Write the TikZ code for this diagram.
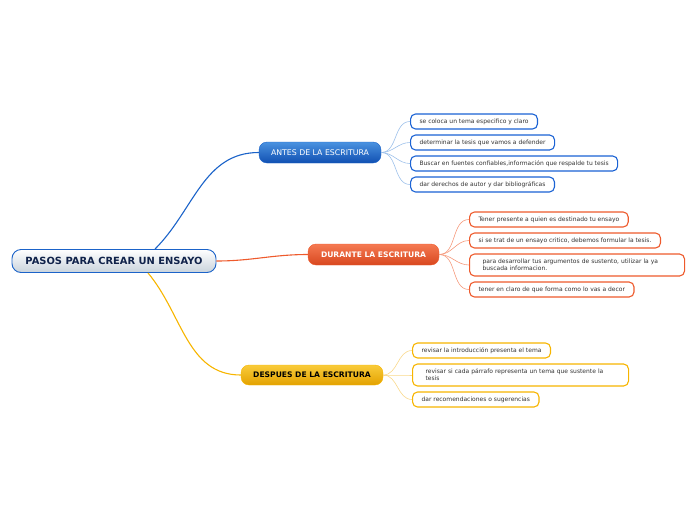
\documentclass[tikz,border=0pt]{standalone}
\usepackage{fontspec}
\setmainfont{DejaVu Sans}
\definecolor{bluebr}{HTML}{1B63C9}
\definecolor{bluetop}{HTML}{4A92E0}
\definecolor{bluebot}{HTML}{1150B2}
\definecolor{bluelf}{HTML}{1A62D4}
\definecolor{bluethin}{HTML}{9CC0EA}
\definecolor{orgbr}{HTML}{EE5A2C}
\definecolor{orgtop}{HTML}{F57A52}
\definecolor{orgbot}{HTML}{D8471F}
\definecolor{orgthin}{HTML}{F59A7C}
\definecolor{yelbr}{HTML}{F7B500}
\definecolor{yeltop}{HTML}{F9CB3A}
\definecolor{yelbot}{HTML}{E3A200}
\definecolor{yelthin}{HTML}{F9D88A}
\definecolor{navy}{HTML}{10224A}
\definecolor{rootbot}{HTML}{C9D3DC}
\definecolor{leaftext}{HTML}{333333}
\usetikzlibrary{positioning}

\tikzset{
  rootbox/.style={draw=bluebr, line width=0.9, rounded corners=9,
    top color=white, bottom color=rootbot,
    minimum width=204, minimum height=23, inner sep=0,
    font=\fontsize{9.9}{11}\selectfont\bfseries, text=navy},
  branchbox/.style={rounded corners=8, minimum height=21, inner sep=0,
    font=\fontsize{7.8}{9}\selectfont},
  leafbox/.style={rounded corners=5, line width=1.1, fill=white,
    anchor=west, minimum height=15, inner xsep=9, inner ysep=2,
    align=left, text=leaftext, font=\fontsize{6}{7.2}\selectfont},
  mainlink/.style={line width=1.1},
  leaflink/.style={line width=0.6},
}

\begin{document}
\begin{tikzpicture}[x=1pt, y=-1pt]
\useasboundingbox (0,0) rectangle (696,520);

% main topic and branches
\node[rootbox] (root) at (114,261) {PASOS PARA CREAR UN ENSAYO};
\node[branchbox, top color=bluetop, bottom color=bluebot, draw=bluebr,
  minimum width=122, text=white] (antes) at (320,152.5) {ANTES DE LA ESCRITURA};
\node[branchbox, top color=orgtop, bottom color=orgbot, draw=orgbr,
  minimum width=131, text=white, font=\fontsize{7.6}{9}\selectfont\bfseries]
  (durante) at (373.5,254.5) {DURANTE LA ESCRITURA};
\node[branchbox, top color=yeltop, bottom color=yelbot, draw=yelbr,
  minimum width=142, minimum height=20, text=black,
  font=\fontsize{7.6}{9}\selectfont\bfseries]
  (despues) at (312,375) {DESPUES DE LA ESCRITURA};

\coordinate (rootup) at ([xshift=41]root.north);
\coordinate (rootdown) at ([xshift=34]root.south);
\draw[mainlink, bluebr] (rootup) to[out=45, in=180] (antes.west);
\draw[mainlink, orgbr] (root.east) to[out=0, in=180] (durante.west);
\draw[mainlink, yelbr] (rootdown) to[out=-50, in=180] (despues.west);

% antes
\node[leafbox, draw=bluelf] (a1) at (410,121.5) {se coloca un tema especifico y claro};
\node[leafbox, draw=bluelf] (a2) at (410,142.5) {determinar la tesis que vamos a defender};
\node[leafbox, draw=bluelf] (a3) at (410,163.5) {Buscar en fuentes confiables,información que respalde tu tesis};
\node[leafbox, draw=bluelf] (a4) at (410,184.5) {dar derechos de autor y dar bibliográficas};
\foreach \n in {a1,a2,a3,a4}
  \draw[leaflink, bluethin] (antes.east) to[out=0, in=180] (\n.west);

% durante
\node[leafbox, draw=orgbr] (d1) at (469,219.5) {Tener presente a quien es destinado tu ensayo};
\node[leafbox, draw=orgbr] (d2) at (469,240.5) {si se trat de un ensayo critico, debemos formular la tesis.};
\node[leafbox, draw=orgbr, minimum height=22, inner xsep=13, text width=189] (d3) at (469,265)
  {para desarrollar tus argumentos de sustento, utilizar la ya\\buscada informacion.};
\node[leafbox, draw=orgbr] (d4) at (469,289.5) {tener en claro de que forma como lo vas a decor};
\foreach \n in {d1,d2,d3,d4}
  \draw[leaflink, orgthin] (durante.east) to[out=0, in=180] (\n.west);

% despues
\node[leafbox, draw=yelbr] (s1) at (412,350.5) {revisar la introducción presenta el tema};
\node[leafbox, draw=yelbr, minimum height=22, inner xsep=13, text width=190] (s2) at (412,375)
  {revisar si cada párrafo representa un tema que sustente la\\tesis};
\node[leafbox, draw=yelbr] (s3) at (412,399.5) {dar recomendaciones o sugerencias};
\foreach \n in {s1,s2,s3}
  \draw[leaflink, yelthin] (despues.east) to[out=0, in=180] (\n.west);
\end{tikzpicture}
\end{document}
